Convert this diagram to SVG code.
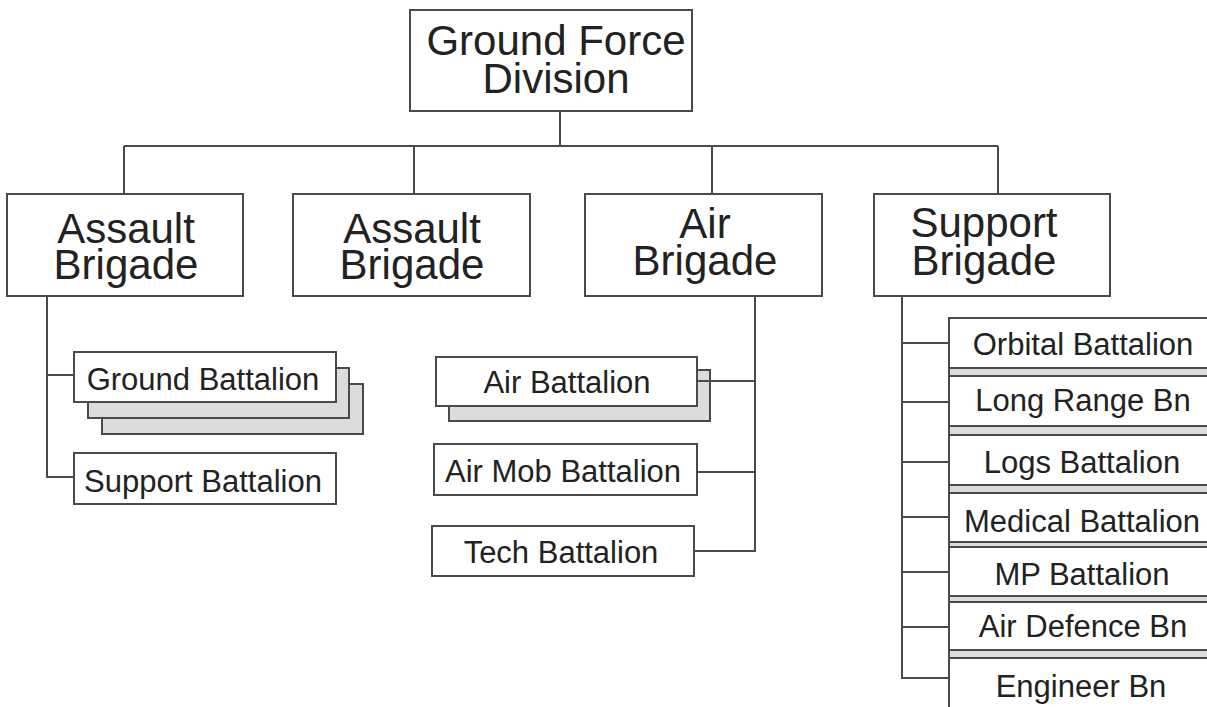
<svg xmlns="http://www.w3.org/2000/svg" width="1207" height="707" viewBox="0 0 1207 707">
<style>
.box{fill:#ffffff;stroke:#4a4a4a;stroke-width:2}
.sh{fill:#dcdcdc;stroke:#4a4a4a;stroke-width:2}
.big{font-family:"Liberation Sans",Arial,sans-serif;font-size:42px;fill:#222;text-anchor:middle}
.sm{font-family:"Liberation Sans",Arial,sans-serif;font-size:31px;fill:#222;text-anchor:middle}
.con{fill:none;stroke:#4a4a4a;stroke-width:2}
</style>
<rect x="0" y="0" width="1207" height="707" fill="#ffffff"/>
<g id="n-division">
<rect class="box" x="410" y="10" width="282" height="101"/>
<text class="big" x="556" y="55">Ground Force</text>
<text class="big" x="556" y="93">Division</text>
</g>
<g id="n-assault1">
<rect class="box" x="7" y="194" width="236" height="102"/>
<text class="big" x="126" y="243">Assault</text>
<text class="big" x="126" y="279">Brigade</text>
</g>
<g id="n-assault2">
<rect class="box" x="293" y="194" width="237" height="102"/>
<text class="big" x="412" y="243">Assault</text>
<text class="big" x="412" y="279">Brigade</text>
</g>
<g id="n-air">
<rect class="box" x="585" y="194" width="237" height="102"/>
<text class="big" x="705" y="238">Air</text>
<text class="big" x="705" y="275">Brigade</text>
</g>
<g id="n-support">
<rect class="box" x="874" y="194" width="236" height="102"/>
<text class="big" x="984" y="237">Support</text>
<text class="big" x="984" y="275">Brigade</text>
</g>
<g id="n-ground-bn">
<rect class="sh" x="102" y="384" width="261" height="50"/>
<rect class="sh" x="88" y="368" width="261" height="50"/>
<rect class="box" x="74" y="352" width="262" height="50"/>
<text class="sm" x="203" y="390">Ground Battalion</text>
</g>
<g id="n-support-bn">
<rect class="box" x="74" y="453" width="262" height="51"/>
<text class="sm" x="203" y="492">Support Battalion</text>
</g>
<g id="n-air-bn">
<rect class="sh" x="449" y="370" width="261" height="51"/>
<rect class="box" x="436" y="357" width="261" height="49"/>
<text class="sm" x="567" y="393">Air Battalion</text>
</g>
<g id="n-airmob-bn">
<rect class="box" x="434" y="444" width="263" height="51"/>
<text class="sm" x="563" y="482">Air Mob Battalion</text>
</g>
<g id="n-tech-bn">
<rect class="box" x="432" y="526" width="262" height="50"/>
<text class="sm" x="561" y="563">Tech Battalion</text>
</g>
<rect class="sh" x="949" y="318" width="270" height="400"/>
<g id="n-orbital">
<rect class="box" x="949" y="318" width="270" height="50"/>
<text class="sm" x="1083" y="355">Orbital Battalion</text>
</g>
<g id="n-longrange">
<rect class="box" x="949" y="376" width="270" height="50"/>
<text class="sm" x="1083" y="411">Long Range Bn</text>
</g>
<g id="n-logs">
<rect class="box" x="949" y="435" width="270" height="50"/>
<text class="sm" x="1082" y="473">Logs Battalion</text>
</g>
<g id="n-medical">
<rect class="box" x="949" y="493" width="270" height="49"/>
<text class="sm" x="1082" y="532">Medical Battalion</text>
</g>
<g id="n-mp">
<rect class="box" x="949" y="547" width="270" height="49"/>
<text class="sm" x="1082" y="585">MP Battalion</text>
</g>
<g id="n-airdef">
<rect class="box" x="949" y="602" width="270" height="48"/>
<text class="sm" x="1083" y="637">Air Defence Bn</text>
</g>
<g id="n-engineer">
<rect class="box" x="949" y="658" width="270" height="60"/>
<text class="sm" x="1081" y="697">Engineer Bn</text>
</g>
<g id="connectors">
<path class="con" d="M560 111V146M124 146H998M124 146V194M414 146V194M712 146V194M998 146V194"/>
<path class="con" d="M47 296V477H74M47 375H74"/>
<path class="con" d="M755 296V551H694M697 381H755M697 472H755"/>
<path class="con" d="M902 296V678H949M902 343H949M902 402H949M902 462H949M902 517H949M902 572H949M902 627H949"/>
</g>
</svg>
